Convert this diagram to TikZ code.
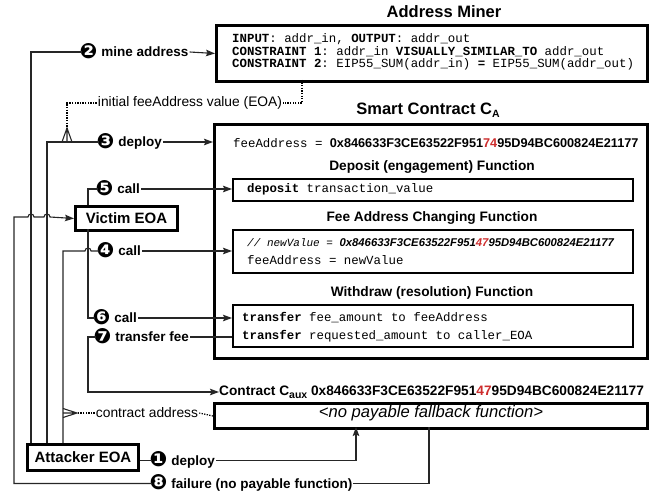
\documentclass[tikz,border=0pt]{standalone}
\usepackage{fontspec}
\setmainfont{Liberation Sans}
\setmonofont{Liberation Mono}
\newfontfamily\dvfont{DejaVu Sans}
\usetikzlibrary{arrows.meta,calc}
\definecolor{hl}{RGB}{205,45,45}
\newcommand\fs[1]{\fontsize{#1}{#1}\selectfont}
\newcommand\cnum[1]{\hspace*{-3.5pt}\smash{\raisebox{-1.3pt}{\dvfont\fs{21}#1}}}
\newcommand\mysub[1]{\raisebox{-0.35ex}{\fs{10.5}#1}}
\begin{document}
\begin{tikzpicture}[x=1pt,y=-1pt,
 box/.style={draw, line width=3pt, inner sep=0pt, anchor=north west},
 fnbox/.style={draw, line width=2.4pt, inner sep=0pt, anchor=north west},
 txt/.style={inner sep=0pt, anchor=west},
 mono/.style={txt, font=\ttfamily\fs{12.4}},
 titl/.style={inner sep=0pt, font=\bfseries\fs{16.5}},
 ftitl/.style={inner sep=0pt, font=\bfseries\fs{13.7}},
 lab/.style={inner sep=1pt, anchor=west, font=\bfseries\fs{13.5}, text height=9.8pt, text depth=0pt},
 dlab/.style={inner sep=1pt, font=\fs{13.8}},
 conn/.style={line width=1.1pt, draw=black!85},
 arr/.style={conn, -{Stealth[length=9pt,width=6.5pt,inset=1.5pt]}},
 dot/.style={line width=1.2pt, dash pattern=on 1.3pt off 1.3pt},
]
\useasboundingbox (0,0) rectangle (651,495);

% ---------- Address Miner ----------
\node[titl] (mtitle) at (444,12) {Address Miner};
\node[box, minimum width=431pt, minimum height=56pt] (miner) at (215,24) {};
\node[mono] (m1) at (232,39) {\textbf{INPUT}: addr\_in, \textbf{OUTPUT}: addr\_out};
\node[mono] (m2) at (232,52) {\textbf{CONSTRAINT 1}: addr\_in \textbf{VISUALLY\_SIMILAR\_TO} addr\_out};
\node[mono] (m3) at (232,64) {\textbf{CONSTRAINT 2}: EIP55\_SUM(addr\_in) \textbf{=} EIP55\_SUM(addr\_out)};

% ---------- Smart Contract ----------
\node[titl] (stitle) at (428,110) {Smart Contract C\mysub{A}};
\node[box, minimum width=433pt, minimum height=234pt] (sc) at (213,123) {};
\node[txt] (fa) at (233,143) {{\ttfamily\fs{12.4}feeAddress = }{\bfseries\fs{12.7}0x846633F3CE63522F951\textcolor{hl}{74}95D94BC600824E21177}};

\node[ftitl] (dtitle) at (432,167) {Deposit (engagement) Function};
\node[fnbox, minimum width=400pt, minimum height=22pt] (dep) at (232,178) {};
\node[mono] (dt) at (247,189) {\textbf{deposit} transaction\_value};

\node[ftitl] (ftitle) at (432,218) {Fee Address Changing Function};
\node[fnbox, minimum width=400pt, minimum height=43pt] (fee) at (232,229) {};
\node[txt] (f1) at (247,243) {{\ttfamily\itshape\fs{11}// newValue = }{\bfseries\itshape\fs{11.3}0x846633F3CE63522F951\textcolor{hl}{47}95D94BC600824E21177}};
\node[mono] (f2) at (247,260) {feeAddress = newValue};

\node[ftitl] (wtitle) at (432,293) {Withdraw (resolution) Function};
\node[fnbox, minimum width=400pt, minimum height=42pt] (wd) at (232,304) {};
\node[mono] (w1) at (242,318) {\textbf{transfer} fee\_amount to feeAddress};
\node[mono] (w2) at (242,336) {\textbf{transfer} requested\_amount to caller\_EOA};

% ---------- Contract C_aux ----------
\node[txt, font=\bfseries\fs{13.7}] (cauxl) at (219,392) {Contract C\mysub{aux} 0x846633F3CE63522F951\textcolor{hl}{47}95D94BC600824E21177};
\node[box, minimum width=433pt, minimum height=25pt] (caux) at (213,402) {};
\node[font=\itshape\fs{16.6}, inner sep=0pt] (cauxt) at (431,413) {<no payable fallback function>};

% ---------- EOAs ----------
\node[box, minimum width=102pt, minimum height=24pt, font=\bfseries\fs{15}] (vic) at (74,205) {Victim EOA};
\node[box, minimum width=111pt, minimum height=26pt, font=\bfseries\fs{15}] (att) at (26,443) {Attacker EOA};

% ---------- labels ----------
\node[lab] (l2) at (82,52) {\cnum{❷}\hspace{4pt}mine address};
\node[lab] (l3) at (99,142) {\cnum{❸}\hspace{4pt}deploy};
\node[lab] (l5) at (98,189) {\cnum{❺}\hspace{4pt}call};
\node[lab] (l4) at (99,251) {\cnum{❹}\hspace{4pt}call};
\node[lab] (l6) at (95,318) {\cnum{❻}\hspace{4pt}call};
\node[lab] (l7) at (96,337) {\cnum{❼}\hspace{4pt}transfer fee};
\node[lab] (l1) at (152,460.5) {\cnum{❶}\hspace{4pt}deploy};
\node[lab] (l8) at (152,483.5) {\cnum{❽}\hspace{4pt}failure (no payable function)};
\node[dlab] (il) at (190,103) {initial feeAddress value (EOA)};
\node[dlab] (cal) at (147,413) {contract address};

% ---------- coordinates ----------
\coordinate (a31) at (31,443);
\coordinate (a47) at (47,443);
\coordinate (a63) at (63,443);
\coordinate (v88t) at (88,205);
\coordinate (v88b) at (88,229);
\coordinate (h4a) at (85,251);
\coordinate (v7) at (88,392);
\coordinate (fc) at (14,217);
\coordinate (h1a) at (28,217);
\coordinate (h2a) at (44,217);
\coordinate (c356) at (356,427);
\coordinate (c429) at (429,427);
\coordinate (d1) at (302,80);
\coordinate (d2) at (67,128);
\coordinate (d2e) at (67,142);
\coordinate (cf) at (77,413);
\coordinate (cfe) at (63,413);

% ---------- connectors ----------
\draw[conn] (a31) |- (l2.west);
\draw[arr] (l2.east) -- (miner.west);
\draw[conn] (a47) |- (l3.west);
\draw[arr] (l3.east) -- (l3.east -| sc.west);
\draw[conn] (v88t) |- (l5.west);
\draw[arr] (l5.east) -- (l5.east -| dep.west);
\draw[conn] (a63) |- (h4a) arc[start angle=180,end angle=0,radius=3pt] -- (l4.west);
\draw[arr] (l4.east) -- (l4.east -| fee.west);
\draw[conn] (v88b) |- (l6.west);
\draw[arr] (l6.east) -- (l6.east -| wd.west);
\draw[conn] (l7.east -| wd.west) -- (l7.east);
\draw[arr] (l7.west) -| (v7) -- (cauxl.west);
\draw[conn] (att.east |- l1.west) -- (l1.west);
\draw[arr] (l1.east) -| (c356);
\draw[conn] (c429) |- (l8.east);
\draw[arr] (l8.west) -| (fc) -- (h1a) arc[start angle=180,end angle=0,radius=3pt] -- (h2a) arc[start angle=180,end angle=0,radius=3pt] -- (vic.west);

% dotted links with crow's feet
\draw[dot] (d1) |- (il.east);
\draw[dot] (il.west) -| (d2);
\draw[conn] (d2) -- (d2e) ($(d2e)+(-5,0)$) -- (d2) -- ($(d2e)+(5,0)$);
\draw[dot] (caux.west) -- (cal.east);
\draw[dot] (cal.west) -- (cf);
\draw[conn] (cf) -- (cfe) ($(cfe)+(0,-4.5)$) -- (cf) -- ($(cfe)+(0,4.5)$);
\end{tikzpicture}
\end{document}
